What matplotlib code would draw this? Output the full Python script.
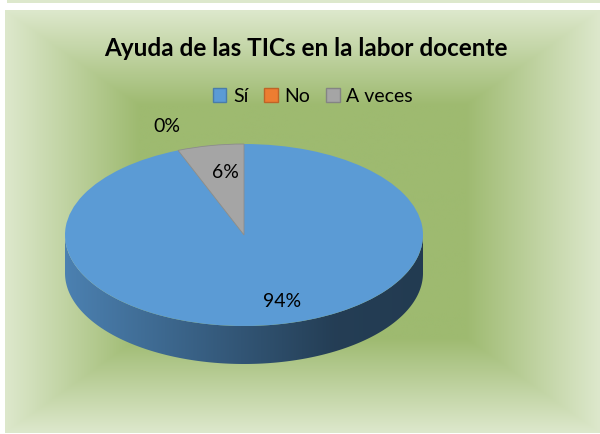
import numpy as np
import matplotlib
matplotlib.use("Agg")
import matplotlib.pyplot as plt
from matplotlib.patches import Polygon, Rectangle, Patch

# ---- data ----
categories = ["Sí", "No", "A veces"]
values = [94, 0, 6]
colors = ["#5B9BD5", "#ED7D31", "#A5A5A5"]
title = "Ayuda de las TICs en la labor docente"

# ---- layout (pixels) ----
W, H = 600, 435
chart_box = (5, 11, 600, 434)          # x0, y0, x1, y1
pie_cx, pie_cy, pie_a, pie_b, pie_depth = 244, 236, 179, 91, 38
label_pos_px = [(282, 302), (167, 127), (225, 173)]   # Sí, No, A veces

plt.rcParams['font.family'] = ['Lato', 'DejaVu Sans']

fig = plt.figure(figsize=(W / 100, H / 100), dpi=100)
fig.patch.set_facecolor("white")

# background axes
bg = fig.add_axes([0, 0, 1, 1])
bg.set_xlim(0, W)
bg.set_ylim(H, 0)
bg.axis("off")
bg.add_patch(Rectangle((7, 0), W - 7, 4, facecolor="#DDE8CC", edgecolor="none"))

x0, y0, x1, y1 = chart_box
xs = np.linspace(x0, x1, 600)
ys = np.linspace(y0, y1, 430)
X, Y = np.meshgrid(xs, ys)
cx, cy = (x0 + x1) / 2, (y0 + y1) / 2
d = np.maximum(np.abs(X - cx) / ((x1 - x0) / 2), np.abs(Y - cy) / ((y1 - y0) / 2))
t = np.clip((d - 0.55) / 0.45, 0, 1)
dark = np.array([158, 186, 112]) / 255
light = np.array([221, 232, 204]) / 255
img = dark[None, None, :] + (light - dark)[None, None, :] * t[..., None]
bg.imshow(img, extent=(x0, x1, y1, y0), aspect="auto", interpolation="bilinear", zorder=0)
bg.set_xlim(0, W)
bg.set_ylim(H, 0)

# title
fig.text(306 / W, 1 - 48 / H, title, ha="center", va="center",
         fontsize=17.5, fontweight="bold", color="black")

# legend
handles = [Patch(facecolor=c, edgecolor=matplotlib.colors.to_hex(np.array(matplotlib.colors.to_rgb(c)) * 0.8), linewidth=1.0)
           for c in colors]
fig.legend(handles, categories, loc="center", bbox_to_anchor=(313 / W, 1 - 97 / H),
           ncol=3, frameon=False, fontsize=14, handlelength=0.7, handleheight=0.7,
           handletextpad=0.35, columnspacing=0.8, borderpad=0)

# pie axes (top ellipse bounding box plus side depth)
dd = pie_depth / pie_b
ax = fig.add_axes([(pie_cx - pie_a) / W, 1 - (pie_cy + pie_b + pie_depth) / H,
                   2 * pie_a / W, (2 * pie_b + pie_depth) / H])
ax.patch.set_alpha(0)

# side faces of wedges on the front half
total = float(sum(values))
start = 90.0
theta = []
for v in values:
    end = start - 360.0 * v / total
    theta.append((start, end))
    start = end

for (s, e), c in zip(theta, colors):
    lo, hi = min(s, e), max(s, e)
    segs = []
    for off in (-360, 0, 360):
        a0, a1 = max(lo + off, 180), min(hi + off, 360)
        if a1 > a0:
            segs.append((a0, a1))
    rgb = np.array(matplotlib.colors.to_rgb(c))
    for a0, a1 in segs:
        th = np.radians(np.linspace(a0, a1, 200))
        top = np.column_stack([np.cos(th), np.sin(th)])
        bot = top[::-1] - [0, dd]
        poly = Polygon(np.vstack([top, bot]), closed=True, facecolor="none", edgecolor="none")
        ax.add_patch(poly)
        gx = np.linspace(-1, 1, 400)
        f = np.interp(gx, [-1, 0.5, 1], [0.83, 0.40, 0.38])
        grad = np.clip(rgb[None, :] * f[:, None], 0, 1)[None, :, :]
        im = ax.imshow(grad, extent=(-1, 1, -1 - dd, 0), aspect="auto", zorder=1,
                       interpolation="bilinear")
        im.set_clip_path(poly)

wedges, texts, autotexts = ax.pie(values, colors=colors, startangle=90, counterclock=False,
                                  radius=1, autopct="%1.0f%%", pctdistance=0.6,
                                  wedgeprops=dict(linewidth=0.6, edgecolor="none"),
                                  textprops=dict(fontsize=14, color="black"))
for w in wedges:
    w.set_zorder(3)
wedges[2].set_edgecolor("#8C8C8C")
for txt, (px, py) in zip(autotexts, label_pos_px):
    txt.set_position(((px - pie_cx) / pie_a, (pie_cy - py) / pie_b))
    txt.set_ha("center")
    txt.set_va("center")
    txt.set_zorder(5)
    txt.set_clip_on(False)
ax.set_aspect("auto")
ax.set_xlim(-1, 1)
ax.set_ylim(-1 - dd, 1)
ax.axis("off")

fig.savefig("out.png", dpi=100)
